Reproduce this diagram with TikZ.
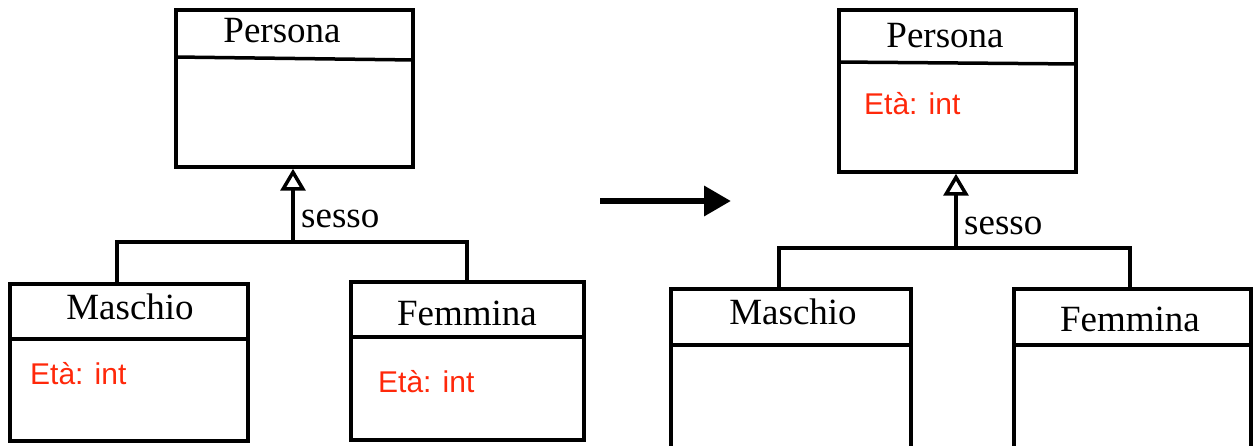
\documentclass[tikz,border=0pt]{standalone}
\usepackage{fontspec}
\setmainfont{Liberation Serif}
\newfontfamily\attrfont{Liberation Sans}
\usetikzlibrary{arrows.meta}
\definecolor{attrred}{RGB}{255,40,10}
\begin{document}
\begin{tikzpicture}[x=1pt,y=-1pt,
  umlbox/.style={draw,line width=3.5pt,rectangle,inner sep=0pt},
  divider/.style={line width=3.5pt},
  title/.style={font=\fontsize{37}{42}\selectfont,inner sep=0pt,anchor=center},
  attr/.style={font=\attrfont\fontsize{30}{36}\selectfont\color{attrred},inner sep=0pt,anchor=west},
  lab/.style={font=\fontsize{37}{42}\selectfont,inner sep=0pt,anchor=west},
  conn/.style={line width=3.5pt},
  gen/.style={line width=3.5pt,-{Triangle[open,length=22pt,width=25pt]}},
  bigarrow/.style={line width=6.5pt,-{Triangle[length=27pt,width=29pt]}}]
\useasboundingbox (0,0) rectangle (1253,446);
% ---------- left diagram ----------
\node[umlbox,minimum width=237pt,minimum height=157pt] (p1) at (294.5,88.5) {};
\draw[divider] (p1.west |- 0,57) -- (p1.east |- 0,60);
\node[title] (p1t) at (282,31) {Persona};
\node[umlbox,minimum width=238pt,minimum height=157pt] (m1) at (129,362.5) {};
\draw[divider] (m1.west |- 0,339) -- (m1.east |- 0,339);
\node[title] (m1t) at (130,307) {Maschio};
\node[attr] (m1a) at (30,374) {Età: int};
\node[umlbox,minimum width=233pt,minimum height=158pt] (f1) at (467.5,361) {};
\draw[divider] (f1.west |- 0,337) -- (f1.east |- 0,337);
\node[title] (f1t) at (467,313) {Femmina};
\node[attr] (f1a) at (378,382) {Età: int};
\coordinate (j1) at (293,242);
\coordinate (b1l) at (117,242);
\coordinate (b1r) at (467,242);
\draw[conn] (b1l |- m1.north) -- (b1l) -- (b1r) -- (b1r |- f1.north);
\draw[gen] (j1) -- (j1 |- p1.south);
\node[lab] (s1) at (301,219) {sesso};
% ---------- big arrow ----------
\coordinate (a1) at (600,201);
\coordinate (a2) at (731,201);
\draw[bigarrow] (a1) -- (a2);
% ---------- right diagram ----------
\node[umlbox,minimum width=237pt,minimum height=162pt] (p2) at (957.5,91) {};
\draw[divider] (p2.west |- 0,62) -- (p2.east |- 0,64);
\node[title] (p2t) at (945,36) {Persona};
\node[attr] (p2a) at (864,104) {Età: int};
\node[umlbox,minimum width=240pt,minimum height=160pt] (m2) at (791,369) {};
\draw[divider] (m2.west |- 0,345) -- (m2.east |- 0,345);
\node[title] (m2t) at (793,312) {Maschio};
\node[umlbox,minimum width=237pt,minimum height=160pt] (f2) at (1132.5,369) {};
\draw[divider] (f2.west |- 0,345) -- (f2.east |- 0,345);
\node[title] (f2t) at (1130,319) {Femmina};
\coordinate (j2) at (956,248);
\coordinate (b2l) at (779,248);
\coordinate (b2r) at (1130,248);
\draw[conn] (b2l |- m2.north) -- (b2l) -- (b2r) -- (b2r |- f2.north);
\draw[gen] (j2) -- (j2 |- p2.south);
\node[lab] (s2) at (964,226) {sesso};
\end{tikzpicture}
\end{document}
